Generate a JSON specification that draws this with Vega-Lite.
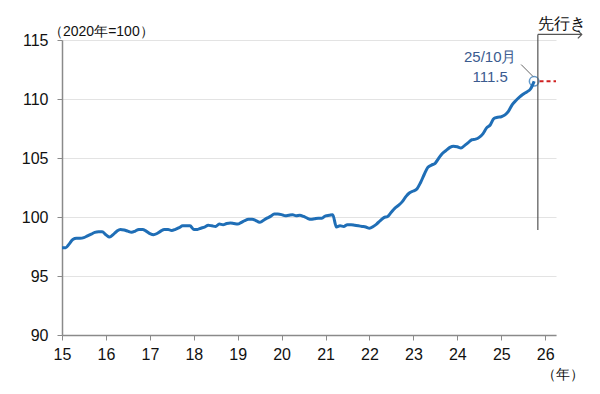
{
  "$schema": "https://vega.github.io/schema/vega-lite/v6.json",
  "width": 494,
  "height": 295,
  "autosize": {"type": "none"},
  "padding": {"left": 62, "top": 40, "right": 44, "bottom": 59},
  "background": "white",
  "config": {"view": {"stroke": null}, "font": "Liberation Sans"},
  "layer": [
    {
      "data": {"values": [
        {"d":"2015-01-01","v":97.4},{"d":"2015-02-01","v":97.4},{"d":"2015-03-01","v":97.7},{"d":"2015-04-01","v":98.1},{"d":"2015-05-01","v":98.2},{"d":"2015-06-01","v":98.2},{"d":"2015-07-01","v":98.25},{"d":"2015-08-01","v":98.4},{"d":"2015-09-01","v":98.55},{"d":"2015-10-01","v":98.7},{"d":"2015-11-01","v":98.75},{"d":"2015-12-01","v":98.75},
        {"d":"2016-01-01","v":98.5},{"d":"2016-02-01","v":98.3},{"d":"2016-03-01","v":98.5},{"d":"2016-04-01","v":98.8},{"d":"2016-05-01","v":98.95},{"d":"2016-06-01","v":98.9},{"d":"2016-07-01","v":98.8},{"d":"2016-08-01","v":98.7},{"d":"2016-09-01","v":98.8},{"d":"2016-10-01","v":98.95},{"d":"2016-11-01","v":98.95},{"d":"2016-12-01","v":98.8},
        {"d":"2017-01-01","v":98.6},{"d":"2017-02-01","v":98.5},{"d":"2017-03-01","v":98.6},{"d":"2017-04-01","v":98.8},{"d":"2017-05-01","v":98.95},{"d":"2017-06-01","v":98.95},{"d":"2017-07-01","v":98.85},{"d":"2017-08-01","v":98.95},{"d":"2017-09-01","v":99.1},{"d":"2017-10-01","v":99.25},{"d":"2017-11-01","v":99.25},{"d":"2017-12-01","v":99.25},
        {"d":"2018-01-01","v":98.95},{"d":"2018-02-01","v":98.95},{"d":"2018-03-01","v":99.05},{"d":"2018-04-01","v":99.15},{"d":"2018-05-01","v":99.3},{"d":"2018-06-01","v":99.25},{"d":"2018-07-01","v":99.2},{"d":"2018-08-01","v":99.4},{"d":"2018-09-01","v":99.35},{"d":"2018-10-01","v":99.45},{"d":"2018-11-01","v":99.5},{"d":"2018-12-01","v":99.45},
        {"d":"2019-01-01","v":99.4},{"d":"2019-02-01","v":99.55},{"d":"2019-03-01","v":99.7},{"d":"2019-04-01","v":99.8},{"d":"2019-05-01","v":99.8},{"d":"2019-06-01","v":99.7},{"d":"2019-07-01","v":99.55},{"d":"2019-08-01","v":99.7},{"d":"2019-09-01","v":99.9},{"d":"2019-10-01","v":100.05},{"d":"2019-11-01","v":100.25},{"d":"2019-12-01","v":100.25},
        {"d":"2020-01-01","v":100.2},{"d":"2020-02-01","v":100.1},{"d":"2020-03-01","v":100.15},{"d":"2020-04-01","v":100.2},{"d":"2020-05-01","v":100.1},{"d":"2020-06-01","v":100.15},{"d":"2020-07-01","v":100.05},{"d":"2020-08-01","v":99.9},{"d":"2020-09-01","v":99.8},{"d":"2020-10-01","v":99.85},{"d":"2020-11-01","v":99.9},{"d":"2020-12-01","v":99.9},
        {"d":"2021-01-01","v":100.1},{"d":"2021-02-01","v":100.15},{"d":"2021-03-01","v":100.2},{"d":"2021-04-01","v":99.15},{"d":"2021-05-01","v":99.25},{"d":"2021-06-01","v":99.2},{"d":"2021-07-01","v":99.35},{"d":"2021-08-01","v":99.35},{"d":"2021-09-01","v":99.3},{"d":"2021-10-01","v":99.25},{"d":"2021-11-01","v":99.2},{"d":"2021-12-01","v":99.15},
        {"d":"2022-01-01","v":99.05},{"d":"2022-02-01","v":99.2},{"d":"2022-03-01","v":99.4},{"d":"2022-04-01","v":99.7},{"d":"2022-05-01","v":99.95},{"d":"2022-06-01","v":100.05},{"d":"2022-07-01","v":100.4},{"d":"2022-08-01","v":100.75},{"d":"2022-09-01","v":101.0},{"d":"2022-10-01","v":101.3},{"d":"2022-11-01","v":101.75},{"d":"2022-12-01","v":102.05},
        {"d":"2023-01-01","v":102.2},{"d":"2023-02-01","v":102.4},{"d":"2023-03-01","v":102.9},{"d":"2023-04-01","v":103.6},{"d":"2023-05-01","v":104.2},{"d":"2023-06-01","v":104.4},{"d":"2023-07-01","v":104.55},{"d":"2023-08-01","v":105.0},{"d":"2023-09-01","v":105.4},{"d":"2023-10-01","v":105.65},{"d":"2023-11-01","v":105.9},{"d":"2023-12-01","v":106.0},
        {"d":"2024-01-01","v":105.95},{"d":"2024-02-01","v":105.85},{"d":"2024-03-01","v":106.05},{"d":"2024-04-01","v":106.3},{"d":"2024-05-01","v":106.55},{"d":"2024-06-01","v":106.6},{"d":"2024-07-01","v":106.75},{"d":"2024-08-01","v":107.05},{"d":"2024-09-01","v":107.55},{"d":"2024-10-01","v":107.8},{"d":"2024-11-01","v":108.35},{"d":"2024-12-01","v":108.45},
        {"d":"2025-01-01","v":108.5},{"d":"2025-02-01","v":108.65},{"d":"2025-03-01","v":108.95},{"d":"2025-04-01","v":109.5},{"d":"2025-05-01","v":109.85},{"d":"2025-06-01","v":110.15},{"d":"2025-07-01","v":110.4},{"d":"2025-08-01","v":110.6},{"d":"2025-09-01","v":110.85},{"d":"2025-10-01","v":111.5}
      ]},
      "mark": {"type": "line", "color": "#1f6eb6", "strokeWidth": 3, "interpolate": "monotone"},
      "encoding": {
        "x": {
          "field": "d", "type": "temporal",
          "scale": {"type": "utc", "domain": [{"year": 2015, "month": 1, "date": 1, "utc": true}, {"year": 2026, "month": 4, "date": 1, "utc": true}]},
          "axis": {
            "title": null, "labelExpr": "utcFormat(datum.value, '%y')",
            "values": [
              {"year": 2015, "month": 1, "date": 1, "utc": true},{"year": 2016, "month": 1, "date": 1, "utc": true},{"year": 2017, "month": 1, "date": 1, "utc": true},{"year": 2018, "month": 1, "date": 1, "utc": true},{"year": 2019, "month": 1, "date": 1, "utc": true},{"year": 2020, "month": 1, "date": 1, "utc": true},{"year": 2021, "month": 1, "date": 1, "utc": true},{"year": 2022, "month": 1, "date": 1, "utc": true},{"year": 2023, "month": 1, "date": 1, "utc": true},{"year": 2024, "month": 1, "date": 1, "utc": true},{"year": 2025, "month": 1, "date": 1, "utc": true},{"year": 2026, "month": 1, "date": 1, "utc": true}
            ],
            "grid": false, "domainColor": "#8a8a8a", "domainWidth": 1.5, "tickColor": "#8a8a8a", "tickSize": 5,
            "labelFontSize": 16, "labelColor": "#111", "labelPadding": 6, "labelFlush": false
          }
        },
        "y": {
          "field": "v", "type": "quantitative",
          "scale": {"domain": [90, 115], "nice": false, "zero": false},
          "axis": {
            "title": null, "values": [90, 95, 100, 105, 110, 115], "grid": true, "gridColor": "#e3e3e3",
            "domainColor": "#8a8a8a", "domainWidth": 1.5, "tickColor": "#8a8a8a", "tickSize": 5,
            "labelFontSize": 16, "labelColor": "#111", "labelPadding": 9
          }
        }
      }
    },
    {
      "data": {"values": [{"d": "2025-11-15", "d2": "2026-04-01", "v": 111.5}]},
      "mark": {"type": "rule", "color": "#d02020", "strokeDash": [4, 3], "strokeWidth": 2},
      "encoding": {"x": {"field": "d", "type": "temporal"}, "x2": {"field": "d2"}, "y": {"field": "v", "type": "quantitative"}}
    },
    {
      "data": {"values": [{"d": "2025-10-01", "v": 111.5}]},
      "mark": {"type": "point", "shape": "circle", "filled": false, "size": 90, "strokeWidth": 1.5, "color": "#1f6eb6"},
      "encoding": {"x": {"field": "d", "type": "temporal"}, "y": {"field": "v", "type": "quantitative"}}
    },
    {
      "data": {"values": [{"d": "2025-11-01", "v": 98.9, "v2": 115.47}]},
      "mark": {"type": "rule", "color": "#555", "strokeWidth": 1.2},
      "encoding": {"x": {"field": "d", "type": "temporal"}, "y": {"field": "v", "type": "quantitative"}, "y2": {"field": "v2"}}
    },
    {
      "data": {"values": [{"d": "2025-11-01", "d2": "2026-11-01", "v": 115.47}]},
      "mark": {"type": "rule", "color": "#555", "strokeWidth": 1.2},
      "encoding": {"x": {"field": "d", "type": "temporal"}, "x2": {"field": "d2"}, "y": {"field": "v", "type": "quantitative"}}
    },
    {
      "data": {"values": [{"d": "2026-11-01", "v": 115.47}]},
      "mark": {"type": "point", "shape": "M-1,-1L0,0L-1,1", "filled": false, "size": 60, "strokeWidth": 1.2, "color": "#555", "opacity": 1},
      "encoding": {"x": {"field": "d", "type": "temporal"}, "y": {"field": "v", "type": "quantitative"}}
    },
    {
      "data": {"values": [{"d": "2025-06-15", "d2": "2025-09-23", "v": 112.92, "v2": 111.9}]},
      "mark": {"type": "rule", "color": "#666", "strokeWidth": 1},
      "encoding": {"x": {"field": "d", "type": "temporal"}, "x2": {"field": "d2"}, "y": {"field": "v", "type": "quantitative"}, "y2": {"field": "v2"}}
    },
    {
      "data": {"values": [{"d": "2025-11-01", "v": 115.47, "t": "先行き"}]},
      "mark": {"type": "text", "align": "left", "baseline": "alphabetic", "dx": 0, "dy": -5, "fontSize": 16, "color": "#111"},
      "encoding": {"x": {"field": "d", "type": "temporal"}, "y": {"field": "v", "type": "quantitative"}, "text": {"field": "t"}}
    },
    {
      "data": {"values": [{"d": "2024-10-01", "v": 113.6, "t": "25/10月"}, {"d": "2024-10-01", "v": 111.9, "t": "111.5"}]},
      "mark": {"type": "text", "align": "center", "baseline": "middle", "fontSize": 15, "color": "#3b5b8f"},
      "encoding": {"x": {"field": "d", "type": "temporal"}, "y": {"field": "v", "type": "quantitative"}, "text": {"field": "t"}}
    },
    {
      "data": {"values": [{"d": "2015-01-01", "v": 115, "t": "（2020年=100）"}]},
      "mark": {"type": "text", "align": "left", "baseline": "middle", "dx": -13, "dy": -8, "fontSize": 14, "color": "#111"},
      "encoding": {"x": {"field": "d", "type": "temporal"}, "y": {"field": "v", "type": "quantitative"}, "text": {"field": "t"}}
    },
    {
      "data": {"values": [{"d": "2026-05-28", "v": 86.6, "t": "（年）"}]},
      "mark": {"type": "text", "align": "center", "baseline": "middle", "fontSize": 14, "color": "#111"},
      "encoding": {"x": {"field": "d", "type": "temporal"}, "y": {"field": "v", "type": "quantitative"}, "text": {"field": "t"}}
    }
  ]
}
